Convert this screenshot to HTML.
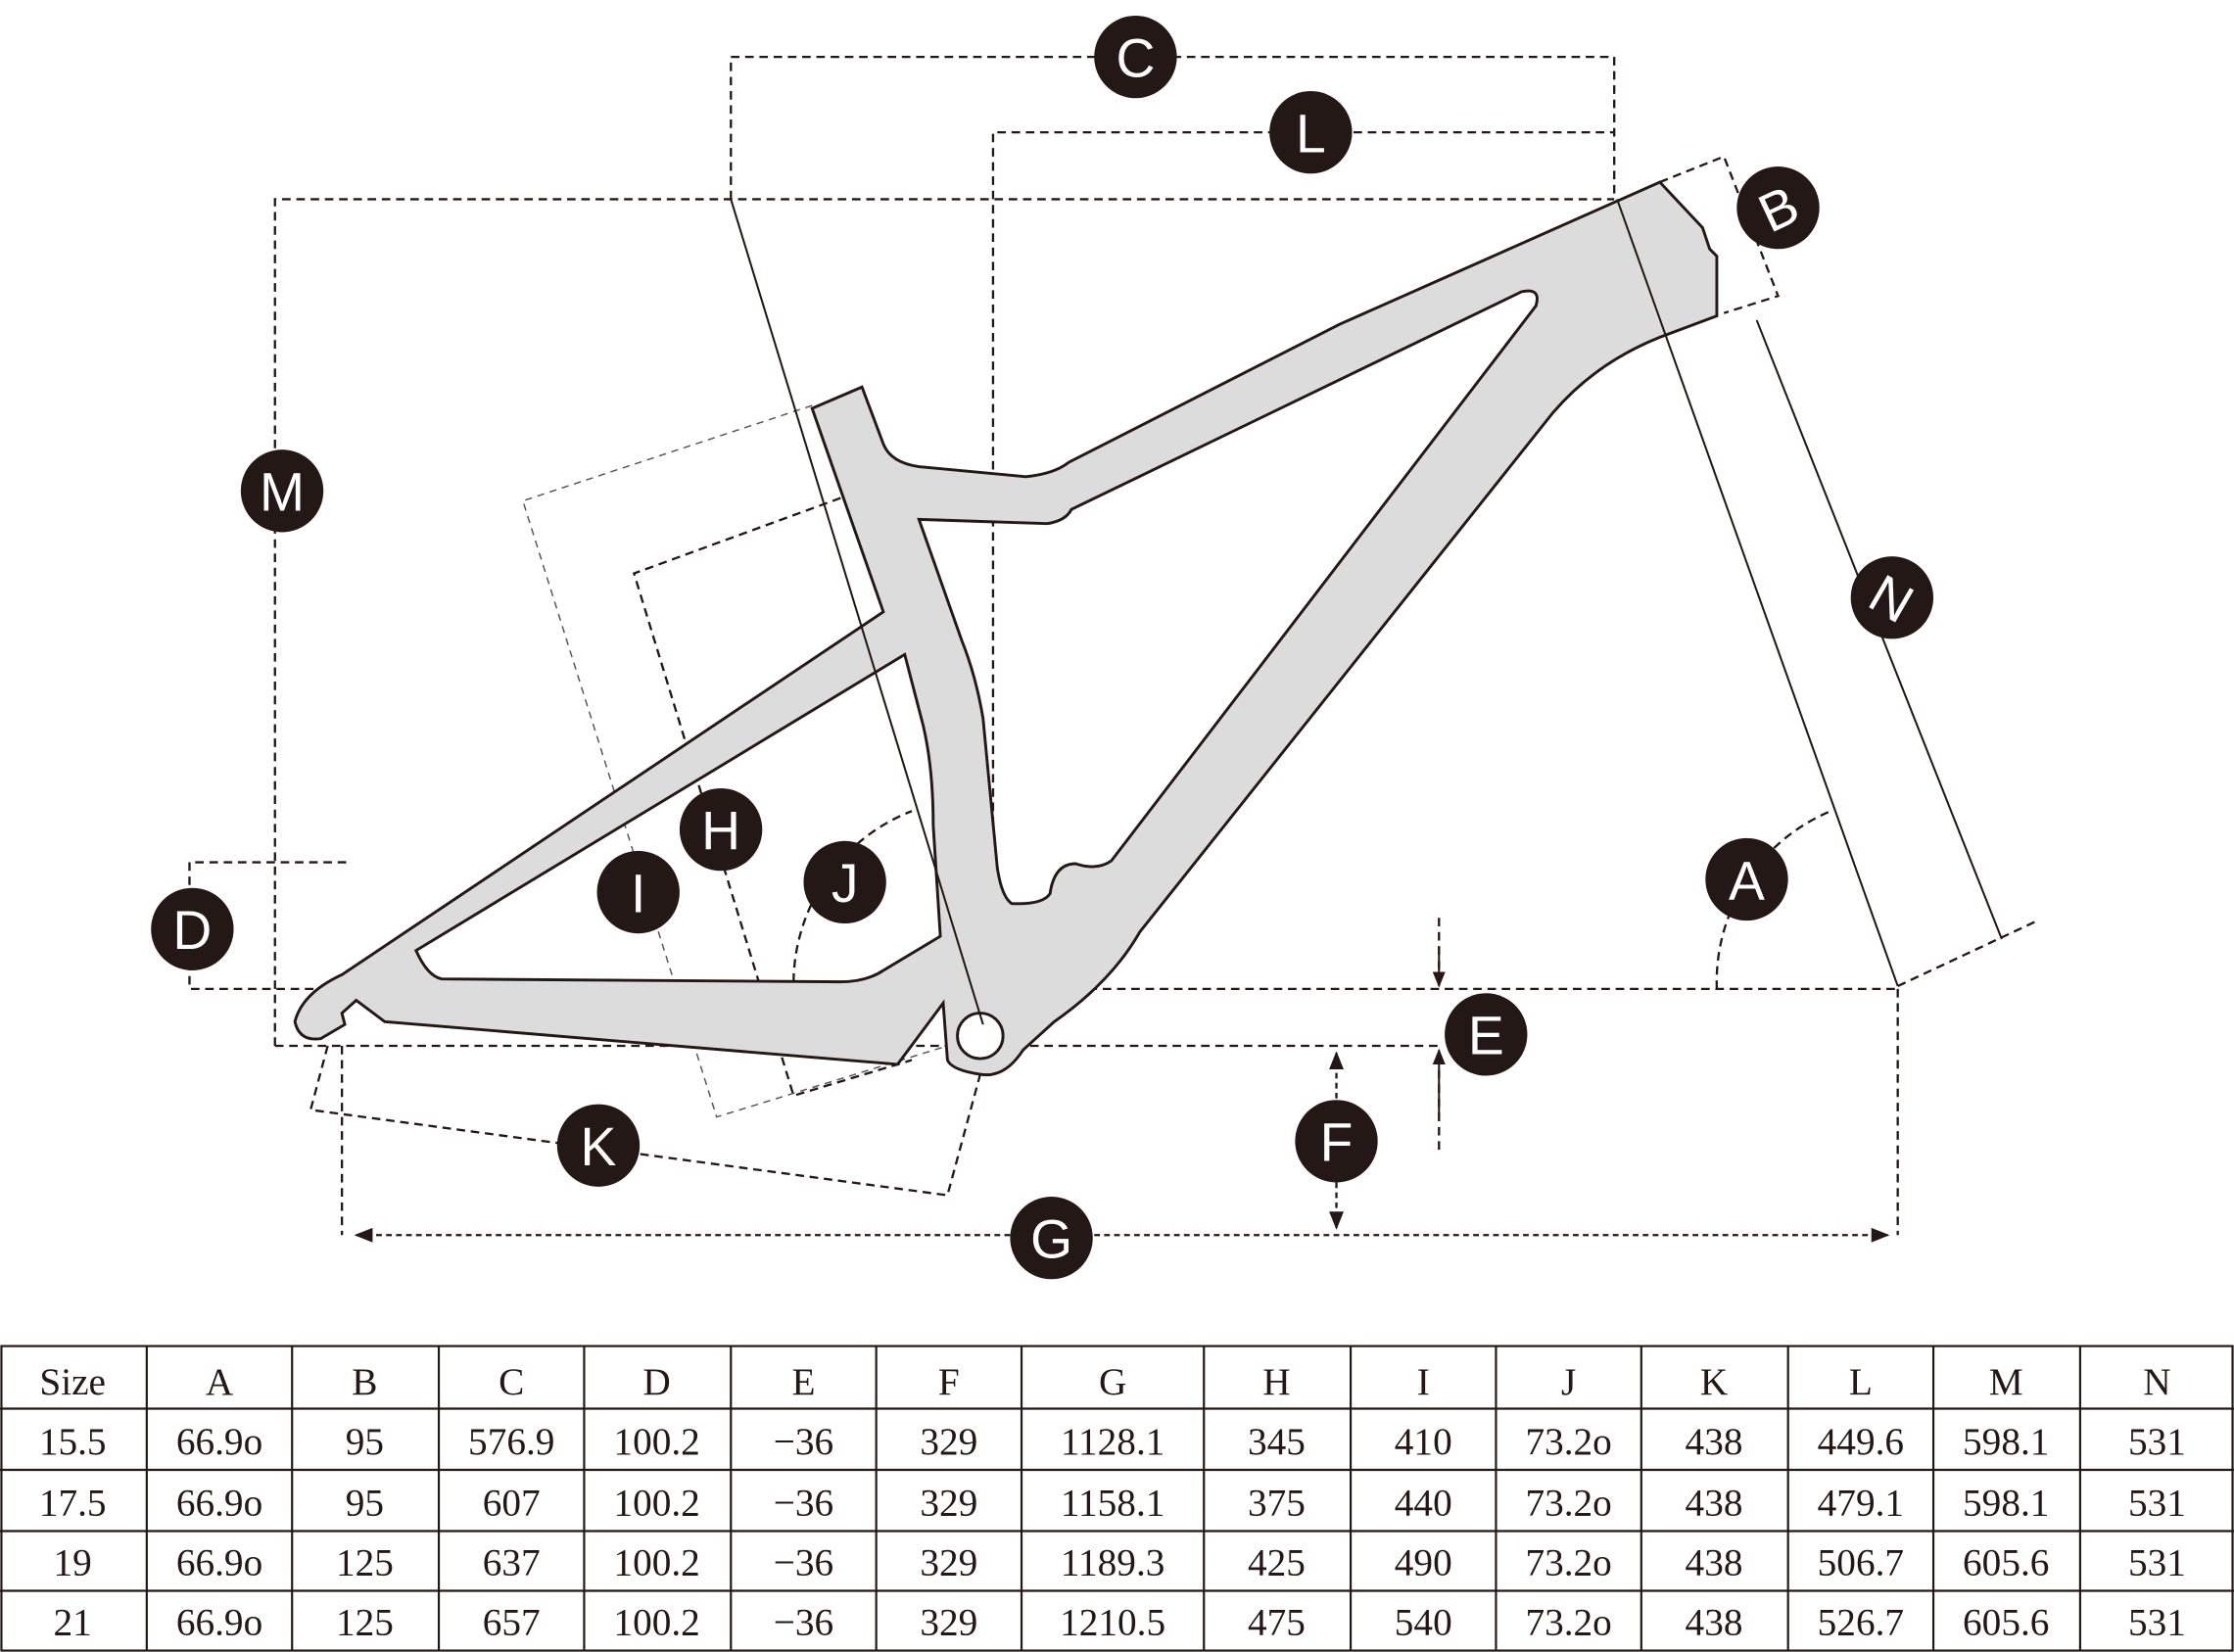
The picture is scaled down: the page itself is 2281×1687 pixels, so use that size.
<!DOCTYPE html>
<html><head><meta charset="utf-8"><style>
html,body{margin:0;padding:0;background:#fff;}
svg{display:block;}
</style></head><body>
<svg width="2281" height="1687" viewBox="0 0 1568 1161" preserveAspectRatio="none" xmlns="http://www.w3.org/2000/svg">
<defs>
<marker id="ar" viewBox="0 0 10 10" refX="9" refY="5" markerWidth="8" markerHeight="8" orient="auto-start-reverse"><path d="M0,1 L10,5 L0,9 z" fill="#231815"/></marker>
</defs>
<g fill="none" stroke="#231815" stroke-width="1.6" stroke-dasharray="6,4">
<path d="M513,140 V40 H1133 V140"/>
<path d="M697,720 V93 H1133"/>
<path d="M193,735 V140 H1133"/>
<path d="M243,606 H133 V695 H1332"/>
<path d="M193,735 H1010"/>
<path d="M1165,128 L1210,110 L1248,208 L1210,220"/>
<path d="M1205,695 A130,130 0 0 1 1285,570"/>
<path d="M557,690 A130,130 0 0 1 640,570"/>
<path d="M590,350 L445,403 L557,770 L640,745"/>
<path d="M230,735 L218,780 L665,840 L688,755"/>
<path d="M240,735 V868"/>
<path d="M1332,695 V868 M1332,693 L1428,648"/>
<path d="M1010,645 V690 M1010,808 V740"/>
</g>
<path d="M570,285 L367,352 L503,785 L665,735" fill="none" stroke="#555" stroke-width="1" stroke-dasharray="5,4"/>
<line x1="250" y1="868" x2="1325" y2="868" stroke="#231815" stroke-width="1.6" stroke-dasharray="4,3" marker-start="url(#ar)" marker-end="url(#ar)"/>
<line x1="938" y1="740" x2="938" y2="863" stroke="#231815" stroke-width="1.6" stroke-dasharray="4,3" marker-start="url(#ar)" marker-end="url(#ar)"/>
<line x1="1010" y1="665" x2="1010" y2="693" stroke="#231815" stroke-width="1.4" marker-end="url(#ar)"/>
<line x1="1010" y1="785" x2="1010" y2="738" stroke="#231815" stroke-width="1.4" marker-end="url(#ar)"/>
<path fill="#dcdcdc" fill-rule="evenodd" stroke="#231815" stroke-width="2" d="
M207,718 Q212,698 240,685 L620,430 L570,287 L605,272 L620,312 Q625,325 645,328 L720,335 Q740,333 750,325 L940,228 L1165,128 L1195,160 L1200,175 L1205,180 L1205,222 L1165,237 Q1120,255 1090,290 L800,655 Q780,690 740,718 L718,738 Q705,758 688,755 Q668,752 665,745 L662,705 L630,748 L270,718 L250,703 L240,712 L242,720 L225,730 Q210,732 207,718 Z
M645,365 L735,368 Q748,366 752,358 L1068,205 Q1082,202 1078,215 L780,605 Q770,612 755,607 Q740,607 737,628 Q732,636 710,635 Q703,630 700,610 L690,505 Q685,475 675,450 L645,365 Z
M635,460 L648,510 Q655,540 655,580 L660,658 L620,682 Q608,690 590,690 L310,688 Q300,686 292,668 Z"/>
<circle cx="688" cy="728" r="16" fill="#fff" stroke="#231815" stroke-width="2"/>
<g stroke="#231815" stroke-width="1.4">
<line x1="513" y1="140" x2="690" y2="720"/>
<line x1="1135" y1="140" x2="1332" y2="693"/>
<line x1="1233" y1="225" x2="1405" y2="660"/>
</g>
<g font-family="Liberation Sans, sans-serif" font-size="38" fill="#fff" text-anchor="middle">
<g fill="#231815"><circle cx="797" cy="40" r="29"/><circle cx="920" cy="93" r="29"/><circle cx="1248" cy="146" r="29"/><circle cx="198" cy="345" r="29"/><circle cx="1328" cy="420" r="29"/><circle cx="135" cy="653" r="29"/><circle cx="506" cy="583" r="29"/><circle cx="448" cy="627" r="29"/><circle cx="593" cy="620" r="29"/><circle cx="1226" cy="618" r="29"/><circle cx="1043" cy="727" r="29"/><circle cx="938" cy="802" r="29"/><circle cx="420" cy="805" r="29"/><circle cx="738" cy="870" r="29"/></g>
<text x="797" y="54">C</text><text x="920" y="107">L</text><text x="1248" y="160" transform="rotate(-25 1248 146)">B</text><text x="198" y="359">M</text><text x="1328" y="434" transform="rotate(30 1328 420)">N</text><text x="135" y="667">D</text><text x="506" y="597">H</text><text x="448" y="641">I</text><text x="593" y="634">J</text><text x="1226" y="632">A</text><text x="1043" y="741">E</text><text x="938" y="816">F</text><text x="420" y="819">K</text><text x="738" y="884">G</text>
</g>
<g stroke="#231815" stroke-width="1.5" fill="none">
<rect x="1" y="946" width="1566" height="214"/>
<path d="M0,990H1568M0,1033H1568M0,1076H1568M0,1118H1568"/>
<path d="M103,946V1160M205,946V1160M308,946V1160M410,946V1160M513,946V1160M615,946V1160M717,946V1160M845,946V1160M948,946V1160M1050,946V1160M1152,946V1160M1255,946V1160M1357,946V1160M1460,946V1160"/>
</g>
<g font-family="Liberation Serif, serif" font-size="27" fill="#231815" text-anchor="middle">
<g transform="translate(0,980)"><text x="51">Size</text><text x="154">A</text><text x="256">B</text><text x="359">C</text><text x="461">D</text><text x="564">E</text><text x="666">F</text><text x="781">G</text><text x="896">H</text><text x="999">I</text><text x="1101">J</text><text x="1203">K</text><text x="1306">L</text><text x="1408">M</text><text x="1514">N</text></g>
<g transform="translate(0,1022)"><text x="51">15.5</text><text x="154">66.9o</text><text x="256">95</text><text x="359">576.9</text><text x="461">100.2</text><text x="564">−36</text><text x="666">329</text><text x="781">1128.1</text><text x="896">345</text><text x="999">410</text><text x="1101">73.2o</text><text x="1203">438</text><text x="1306">449.6</text><text x="1408">598.1</text><text x="1514">531</text></g>
<g transform="translate(0,1065)"><text x="51">17.5</text><text x="154">66.9o</text><text x="256">95</text><text x="359">607</text><text x="461">100.2</text><text x="564">−36</text><text x="666">329</text><text x="781">1158.1</text><text x="896">375</text><text x="999">440</text><text x="1101">73.2o</text><text x="1203">438</text><text x="1306">479.1</text><text x="1408">598.1</text><text x="1514">531</text></g>
<g transform="translate(0,1107)"><text x="51">19</text><text x="154">66.9o</text><text x="256">125</text><text x="359">637</text><text x="461">100.2</text><text x="564">−36</text><text x="666">329</text><text x="781">1189.3</text><text x="896">425</text><text x="999">490</text><text x="1101">73.2o</text><text x="1203">438</text><text x="1306">506.7</text><text x="1408">605.6</text><text x="1514">531</text></g>
<g transform="translate(0,1149)"><text x="51">21</text><text x="154">66.9o</text><text x="256">125</text><text x="359">657</text><text x="461">100.2</text><text x="564">−36</text><text x="666">329</text><text x="781">1210.5</text><text x="896">475</text><text x="999">540</text><text x="1101">73.2o</text><text x="1203">438</text><text x="1306">526.7</text><text x="1408">605.6</text><text x="1514">531</text></g>
</g>
</svg>
</body></html>
